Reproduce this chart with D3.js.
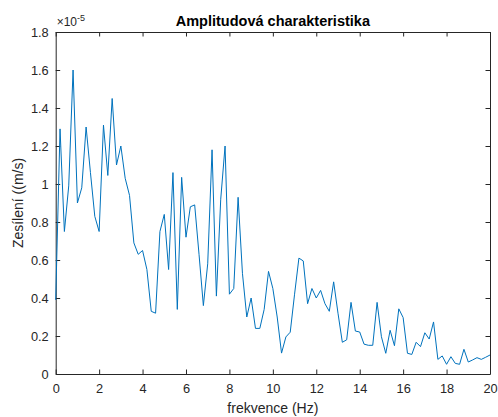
<!DOCTYPE html>
<html>
<head>
<meta charset="utf-8">
<script src="https://cdn.jsdelivr.net/npm/d3@7"></script>
<style>
body { margin:0; background:#fff; }
text { font-family: "Liberation Sans", Arial, Helvetica, sans-serif; }
</style>
</head>
<body>
<svg id="vis" width="498" height="417"></svg>
<script>
// frequency axis (Hz)
var freqs = [
	0.0, 0.2, 0.4, 0.6, 0.8, 1.0, 1.2, 1.4, 1.6, 1.8,
	2.0, 2.2, 2.4, 2.6, 2.8, 3.0, 3.2, 3.4, 3.6, 3.8,
	4.0, 4.2, 4.4, 4.6, 4.8, 5.0, 5.2, 5.4, 5.6, 5.8,
	6.0, 6.2, 6.4, 6.6, 6.8, 7.0, 7.2, 7.4, 7.6, 7.8,
	8.0, 8.2, 8.4, 8.6, 8.8, 9.0, 9.2, 9.4, 9.6, 9.8,
	10.0, 10.2, 10.4, 10.6, 10.8, 11.0, 11.2, 11.4, 11.6, 11.8,
	12.0, 12.2, 12.4, 12.6, 12.8, 13.0, 13.2, 13.4, 13.6, 13.8,
	14.0, 14.2, 14.4, 14.6, 14.8, 15.0, 15.2, 15.4, 15.6, 15.8,
	16.0, 16.2, 16.4, 16.6, 16.8, 17.0, 17.2, 17.4, 17.6, 17.8,
	18.0, 18.2, 18.4, 18.6, 18.8, 19.0, 19.2, 19.4, 19.6, 19.8,
	20.0
];
// gain, in units of 1e-5 (m/s)
var gain = [
	0.39, 1.29, 0.75, 0.99, 1.60, 0.90, 0.98, 1.30, 1.06, 0.83,
	0.75, 1.31, 1.045, 1.45, 1.10, 1.20, 1.03, 0.94, 0.69, 0.63,
	0.65, 0.55, 0.33, 0.32, 0.75, 0.84, 0.55, 1.06, 0.34, 1.035,
	0.72, 0.88, 0.89, 0.63, 0.36, 0.58, 1.18, 0.41, 0.92, 1.20,
	0.42, 0.45, 0.93, 0.53, 0.30, 0.40, 0.24, 0.24, 0.34, 0.54,
	0.45, 0.30, 0.11, 0.195, 0.22, 0.42, 0.61, 0.595, 0.37, 0.45,
	0.40, 0.44, 0.37, 0.33, 0.485, 0.32, 0.167, 0.18, 0.377, 0.226,
	0.221, 0.157, 0.151, 0.151, 0.377, 0.196, 0.109, 0.23, 0.149, 0.343,
	0.297, 0.109, 0.103, 0.167, 0.144, 0.217, 0.184, 0.274, 0.077, 0.095,
	0.051, 0.091, 0.056, 0.051, 0.13, 0.063, 0.074, 0.086, 0.077, 0.088,
	0.10
];
var xTicks = [0, 2, 4, 6, 8, 10, 12, 14, 16, 18, 20];
var yTicks = [0, 0.2, 0.4, 0.6, 0.8, 1, 1.2, 1.4, 1.6, 1.8];

var margin = {top:32, right:8, bottom:43, left:55.7};
var W = 498, H = 417;
var w = W - margin.left - margin.right;
var h = H - margin.top - margin.bottom;
var axcol = "#262626";
var ticklen = 4.5;

var svg = d3.select("svg#vis");
var g = svg.append("g").attr("transform", "translate(" + margin.left + "," + margin.top + ")");

var x = d3.scaleLinear().domain([0, 20]).range([0, w]);
var y = d3.scaleLinear().domain([0, 1.8]).range([h, 0]);

function styleAxis(sel) {
	sel.selectAll("path,line").attr("stroke", axcol).attr("stroke-width", 1);
	sel.selectAll("text").attr("fill", axcol).attr("font-size", "12.8px").attr("font-family", null);
}

// bottom + left carry the labels, top + right only ticks (box on)
g.append("g").attr("transform", "translate(0," + h + ")")
	.call(d3.axisBottom(x).tickValues(xTicks).tickSizeInner(-ticklen).tickSizeOuter(0).tickPadding(10).tickFormat(d3.format("d")))
	.call(styleAxis);
g.append("g")
	.call(d3.axisTop(x).tickValues(xTicks).tickSizeInner(-ticklen).tickSizeOuter(0).tickFormat(""))
	.call(styleAxis);
g.append("g")
	.call(d3.axisLeft(y).tickValues(yTicks).tickSizeInner(-ticklen).tickSizeOuter(0).tickPadding(7).tickFormat(function(d){ return d3.format("")(+d.toFixed(1)); }))
	.call(styleAxis);
g.append("g").attr("transform", "translate(" + w + ",0)")
	.call(d3.axisRight(y).tickValues(yTicks).tickSizeInner(-ticklen).tickSizeOuter(0).tickFormat(""))
	.call(styleAxis);

// data line
var pts = freqs.map(function(f, i){ return [f, gain[i]]; });
var line = d3.line().x(function(d){ return x(d[0]); }).y(function(d){ return y(d[1]); });
g.append("path").datum(pts)
	.attr("d", line)
	.attr("fill", "none")
	.attr("stroke", "#0072BD")
	.attr("stroke-width", 1)
	.attr("stroke-linejoin", "round");

// exponent
var ex = svg.append("text").attr("x", margin.left + 1).attr("y", 26).attr("fill", axcol).attr("font-size", "12px");
ex.append("tspan").text("\u00d710");
ex.append("tspan").attr("dy", -5).attr("font-size", "9px").text("-5");

// title
svg.append("text")
	.attr("x", margin.left + w/2).attr("y", 26)
	.attr("text-anchor", "middle")
	.attr("font-weight", "bold")
	.attr("font-size", "14.5px")
	.attr("fill", "#000")
	.text("Amplitudová charakteristika");

// axis labels
svg.append("text")
	.attr("x", margin.left + w/2).attr("y", 413)
	.attr("text-anchor", "middle")
	.attr("font-size", "14px")
	.attr("fill", axcol)
	.text("frekvence (Hz)");
svg.append("text")
	.attr("transform", "translate(23," + (margin.top + h/2) + ") rotate(-90)")
	.attr("text-anchor", "middle")
	.attr("font-size", "14px")
	.attr("fill", axcol)
	.text("Zesílení ((m/s)");
</script>
</body>
</html>
